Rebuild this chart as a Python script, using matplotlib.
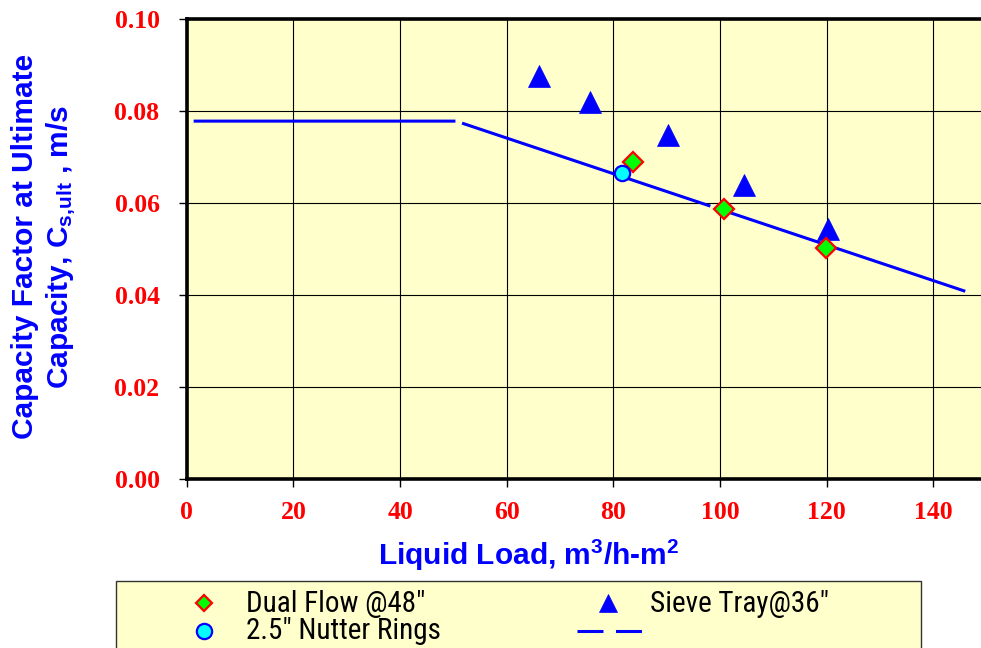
import matplotlib
matplotlib.use("Agg")
import matplotlib.pyplot as plt
from matplotlib.lines import Line2D
from matplotlib.patches import Rectangle
from matplotlib import font_manager as fm

# ---- data ----
dual_x = [83.6, 100.8, 119.9]
dual_y = [0.0689, 0.0587, 0.0502]
nutter_x = [81.6]
nutter_y = [0.0665]
sieve_x = [66.0, 75.6, 90.3, 104.4, 120.2]
sieve_y = [0.0876, 0.0820, 0.0748, 0.0639, 0.0543]
line_x = [0, 50.5, 146.0]
line_y = [0.0778, 0.0778, 0.0408]
xticks = [0, 20, 40, 60, 80, 100, 120, 140]
yticks = [0.00, 0.02, 0.04, 0.06, 0.08, 0.10]
legend_labels = ['Dual Flow @48"', '2.5" Nutter Rings', 'Sieve Tray@36"', '']

plt.rcParams['lines.scale_dashes'] = False
plt.rcParams['mathtext.fontset'] = 'custom'
plt.rcParams['mathtext.rm'] = 'Liberation Sans:bold'
plt.rcParams['mathtext.it'] = 'Liberation Sans:bold'
plt.rcParams['mathtext.bf'] = 'Liberation Sans:bold'
plt.rcParams['mathtext.sf'] = 'Liberation Sans:bold'

# choose a narrow sans font for the legend if one is installed
leg_prop = None
prefs = ['Liberation Sans Narrow', 'Arial Narrow', 'DejaVu Sans Condensed',
         'Roboto Condensed', 'Open Sans Condensed', 'Noto Sans Condensed']
fonts = fm.fontManager.ttflist
for p in prefs:
    cands = [f for f in fonts if f.name == p and f.style == 'normal'
             and (f.weight in (400, 'normal', 'regular'))]
    if cands:
        leg_prop = fm.FontProperties(fname=cands[0].fname, size=21)
        break
if leg_prop is None:
    for f in fonts:
        if ('Narrow' in f.name or 'Condensed' in f.name or f.stretch in ('condensed', 'semi-condensed')) \
                and f.style == 'normal' and f.weight in (400, 'normal', 'regular'):
            leg_prop = fm.FontProperties(fname=f.fname, size=21)
            break
if leg_prop is None:
    leg_prop = fm.FontProperties(family='Liberation Sans', size=18)

W, H = 981, 648
fig = plt.figure(figsize=(W / 100, H / 100), dpi=100)
fig.patch.set_facecolor('white')

x0px, x1px = 186.7, 986.7
ytop, ybot = 19, 479
ax = fig.add_axes([x0px / W, 1 - ybot / H, (x1px - x0px) / W, (ybot - ytop) / H])
ax.set_facecolor('#FFFFCC')
ax.set_xlim(0, 150)
ax.set_ylim(0, 0.10)

ax.set_xticks(xticks)
ax.set_yticks(yticks)
ax.set_xticklabels([str(v) for v in xticks])
ax.set_yticklabels([f"{v:.2f}" for v in yticks])
ax.grid(True, color='black', linewidth=0.8)
ax.set_axisbelow(True)

for lab in ax.get_xticklabels() + ax.get_yticklabels():
    lab.set_fontfamily('Liberation Serif')
    lab.set_fontweight('bold')
    lab.set_color('#FF0000')
    lab.set_fontsize(18.5)
ax.tick_params(axis='both', direction='out', length=5.5, width=1, color='black')
ax.tick_params(axis='y', pad=14)
ax.tick_params(axis='x', pad=10)

for side in ['left', 'top', 'bottom']:
    ax.spines[side].set_linewidth(2.6)
    ax.spines[side].set_color('black')
ax.spines['right'].set_visible(False)

# curve
ax.plot(line_x, line_y, color='#0000FF', linewidth=2.2,
        linestyle=(188.5, (188.5, 5.0)), zorder=3, solid_capstyle='butt',
        dash_capstyle='butt')
ax.plot(sieve_x, sieve_y, linestyle='none', marker='^', markersize=16.5,
        markerfacecolor='#0000FF', markeredgecolor='#0000FF',
        markeredgewidth=0.5, zorder=4)
ax.plot(dual_x, dual_y, linestyle='none', marker='D', markersize=10.5,
        markerfacecolor='#00FF00', markeredgecolor='#FF0000',
        markeredgewidth=1.6, zorder=5)
ax.plot(nutter_x, nutter_y, linestyle='none', marker='o', markersize=11,
        markerfacecolor='#00FFFF', markeredgecolor='#0000FF',
        markeredgewidth=1.6, zorder=6)

# axis labels
ax.set_xlabel('Liquid Load, m$^3$/h-m$^2$', fontfamily='Liberation Sans',
              fontweight='bold', fontsize=21.5, color='#0000FF')
ax.xaxis.set_label_coords((529 - x0px) / (x1px - x0px), -(538 - ybot) / (ybot - ytop))
ax.set_ylabel('Capacity Factor at Ultimate\nCapacity, C$_{s{,}ult}$ , m/s',
              fontfamily='Liberation Sans', fontweight='bold', fontsize=21.5,
              color='#0000FF', linespacing=1.25, multialignment='center')
ax.yaxis.set_label_coords(-(187 - 78) / (x1px - x0px), 0.505)

# legend box (manual)
def fx(px):
    return px / W

def fy(py):
    return 1 - py / H

fig.add_artist(Rectangle((fx(115.7), fy(660)), fx(920.7) - fx(115.7), fy(581) - fy(660),
                         transform=fig.transFigure, facecolor='#FFFFCC',
                         edgecolor='#333333', linewidth=1.0, zorder=1))
fig.add_artist(Line2D([fx(204)], [fy(603)], transform=fig.transFigure, marker='D',
                      markersize=8.5, markerfacecolor='#00FF00', markeredgecolor='#FF0000',
                      markeredgewidth=1.6, linestyle='none', zorder=3))
fig.add_artist(Line2D([fx(204)], [fy(631)], transform=fig.transFigure, marker='o',
                      markersize=11, markerfacecolor='#00FFFF', markeredgecolor='#0000FF',
                      markeredgewidth=1.6, linestyle='none', zorder=3))
fig.add_artist(Line2D([fx(608)], [fy(603)], transform=fig.transFigure, marker='^',
                      markersize=13, markerfacecolor='#0000FF', markeredgecolor='#0000FF',
                      markeredgewidth=0.5, linestyle='none', zorder=3))
fig.add_artist(Line2D([fx(577), fx(642)], [fy(631), fy(631)], transform=fig.transFigure,
                      color='#0000FF', linewidth=2.2, linestyle=(0, (18.7, 9.0)), zorder=3))
for (px, py), lab in zip([(246, 604), (246, 631), (650, 604), (650, 631)], legend_labels):
    fig.text(fx(px), fy(py), lab, fontproperties=leg_prop, color='black',
             va='center', ha='left', zorder=3)

fig.savefig('out.png', dpi=100)
